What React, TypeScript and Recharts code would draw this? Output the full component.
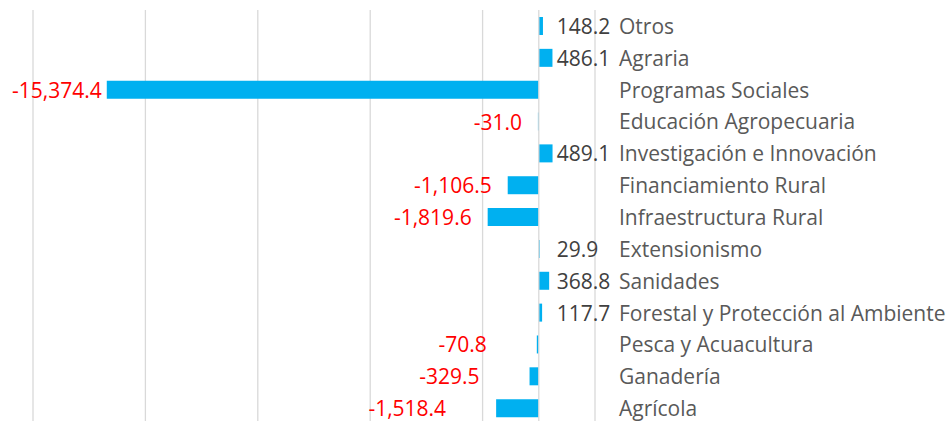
import React from "react";
import {
  BarChart,
  Bar,
  XAxis,
  YAxis,
  CartesianGrid,
  ReferenceLine,
  LabelList,
} from "recharts";

const categories = [
  "Otros",
  "Agraria",
  "Programas Sociales",
  "Educación Agropecuaria",
  "Investigación e Innovación",
  "Financiamiento Rural",
  "Infraestructura Rural",
  "Extensionismo",
  "Sanidades",
  "Forestal y Protección al Ambiente",
  "Pesca y Acuacultura",
  "Ganadería",
  "Agrícola",
];

const values = [
  148.2, 486.1, -15374.4, -31.0, 489.1, -1106.5, -1819.6, 29.9, 368.8, 117.7,
  -70.8, -329.5, -1518.4,
];

const xTicks = [-18000, -14000, -10000, -6000, -2000, 2000];

const data = categories.map((name, i) => ({ name, value: values[i] }));

const FONT = "'Open Sans', sans-serif";
const FS = 21;

// manual label gaps (original labels were hand-placed)
const negGap: Record<number, number> = { 2: 5, 10: 50, 11: 50, 12: 50 };

const fmt = (v: number) =>
  v.toLocaleString("en-US", { minimumFractionDigits: 1, maximumFractionDigits: 1 });

const ValueLabel = (props: any) => {
  const { x, y, width, height, value, index } = props;
  const cy = y + height / 2;
  const left = Math.min(x, x + width);
  if (value < 0) {
    const gap = negGap[index] ?? 16;
    return (
      <text
        x={left - gap}
        y={cy}
        textAnchor="end"
        dominantBaseline="central"
        fill="#FF0000"
        fontFamily={FONT}
        fontSize={FS}
      >
        {fmt(value)}
      </text>
    );
  }
  return (
    <text
      x={left + 18}
      y={cy}
      textAnchor="start"
      dominantBaseline="central"
      fill="#404040"
      fontFamily={FONT}
      fontSize={FS}
    >
      {fmt(value)}
    </text>
  );
};

const CatTick = (props: any) => {
  const { x, y, payload } = props;
  return (
    <text
      x={x + 16}
      y={y}
      textAnchor="start"
      dominantBaseline="central"
      fill="#595959"
      fontFamily={FONT}
      fontSize={FS}
    >
      {payload.value}
    </text>
  );
};

export default function App() {
  return (
    <div
      style={{
        position: "absolute",
        left: 0,
        top: 0,
        width: 950,
        height: 421,
        overflow: "hidden",
        background: "#fff",
      }}
    >
      <BarChart
        width={950}
        height={430}
        data={data}
        layout="vertical"
        margin={{ top: 10, right: 0, bottom: 6, left: 33 }}
      >
        <CartesianGrid
          horizontal={false}
          vertical={true}
          stroke="#D9D9D9"
          strokeWidth={1.3}
        />
        <XAxis
          type="number"
          domain={[-18000, 2000]}
          ticks={xTicks}
          hide
        />
        <YAxis
          type="category"
          dataKey="name"
          orientation="right"
          width={355}
          axisLine={false}
          tickLine={false}
          tick={<CatTick />}
          interval={0}
        />
        <ReferenceLine x={0} stroke="#D9D9D9" strokeWidth={1.3} />
        <Bar dataKey="value" fill="#00B0F0" barSize={18} isAnimationActive={false}>
          <LabelList dataKey="value" content={<ValueLabel />} />
        </Bar>
      </BarChart>
    </div>
  );
}
